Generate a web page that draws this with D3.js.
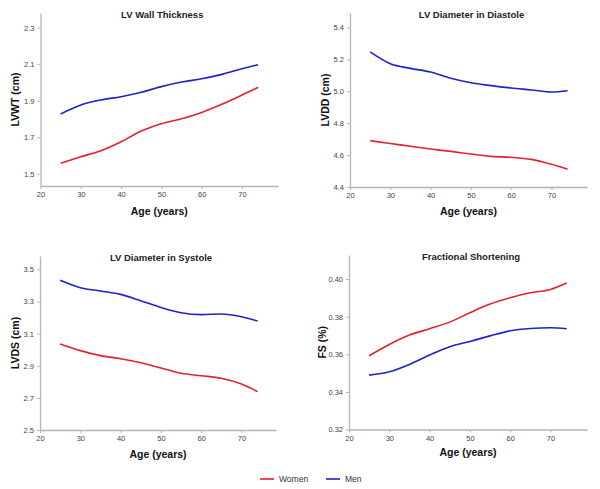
<!DOCTYPE html>
<html>
<head>
<meta charset="utf-8">
<script src="https://cdn.jsdelivr.net/npm/d3@7"></script>
<style>
  body { margin: 0; background: #fff; }
  svg { font-family: "Liberation Sans", Arial, sans-serif; }
</style>
</head>
<body>
<script>
// age points
var ages = [25, 30, 35, 40, 45, 50, 55, 60, 65, 70, 74];

var lvwtWomen = [1.558, 1.593, 1.626, 1.675, 1.734, 1.774, 1.801, 1.836, 1.880, 1.931, 1.973];
var lvwtMen   = [1.827, 1.876, 1.904, 1.922, 1.946, 1.977, 2.002, 2.020, 2.044, 2.075, 2.097];

var lvddWomen = [4.690, 4.673, 4.655, 4.638, 4.623, 4.607, 4.592, 4.586, 4.573, 4.542, 4.511];
var lvddMen   = [5.246, 5.172, 5.143, 5.120, 5.081, 5.053, 5.035, 5.020, 5.008, 4.995, 5.003];

var lvdsWomen = [3.035, 2.994, 2.963, 2.944, 2.919, 2.886, 2.853, 2.838, 2.822, 2.786, 2.739];
var lvdsMen   = [3.432, 3.386, 3.365, 3.344, 3.305, 3.263, 3.230, 3.218, 3.222, 3.205, 3.178];

var fsWomen = [0.3592, 0.3652, 0.3702, 0.3736, 0.3771, 0.3821, 0.3867, 0.3901, 0.3927, 0.3945, 0.3979];
var fsMen   = [0.3489, 0.3507, 0.3546, 0.3596, 0.3640, 0.3668, 0.3698, 0.3725, 0.3737, 0.3741, 0.3736];

var xTicks = [20, 30, 40, 50, 60, 70];
var lvwtTicks = [1.5, 1.7, 1.9, 2.1, 2.3];
var lvddTicks = [4.4, 4.6, 4.8, 5.0, 5.2, 5.4];
var lvdsTicks = [2.5, 2.7, 2.9, 3.1, 3.3, 3.5];
var fsTicks = [0.32, 0.34, 0.36, 0.38, 0.40];

var seriesNames = ["Women", "Men"];
var colors = { Women: "#e3212b", Men: "#2121cc" };

var w = 600, h = 489;
var svg = d3.select("body").append("svg")
    .attr("width", w)
    .attr("height", h);

// panel layout: plot box in page pixels
var panels = [
    { title: "LV Wall Thickness", ylab: "LVWT (cm)", women: lvwtWomen, men: lvwtMen, ticks: lvwtTicks,
      fmt: ".1f", ydom: [1.433, 2.38], x0: 40.5, x1: 278, y0: 186, y1: 13, ylabX: 15, xlabY: 211 },
    { title: "LV Diameter in Diastole", ylab: "LVDD (cm)", women: lvddWomen, men: lvddMen, ticks: lvddTicks,
      fmt: ".1f", ydom: [4.4, 5.49], x0: 350, x1: 587, y0: 187, y1: 13, ylabX: 325, xlabY: 211 },
    { title: "LV Diameter in Systole", ylab: "LVDS (cm)", women: lvdsWomen, men: lvdsMen, ticks: lvdsTicks,
      fmt: ".1f", ydom: [2.5, 3.583], x0: 40, x1: 276, y0: 430, y1: 256, ylabX: 15, xlabY: 454 },
    { title: "Fractional Shortening", ylab: "FS (%)", women: fsWomen, men: fsMen, ticks: fsTicks,
      fmt: ".2f", ydom: [0.32, 0.4128], x0: 349, x1: 587, y0: 429.5, y1: 255, ylabX: 322, xlabY: 452 }
];

panels.forEach(function(p) {
    // x runs from 20 at the y axis, ~4.03 px per year
    var xEnd = 20 + (p.x1 - p.x0) / 4.03;
    var x = d3.scaleLinear().domain([20, xEnd]).range([p.x0, p.x1]);
    var y = d3.scaleLinear().domain(p.ydom).range([p.y0, p.y1]);

    var g = svg.append("g");

    var xAxis = g.append("g")
        .attr("transform", "translate(0," + p.y0 + ")")
        .call(d3.axisBottom(x).tickValues(xTicks).tickSize(3).tickSizeOuter(0).tickPadding(3));
    var yAxis = g.append("g")
        .attr("transform", "translate(" + p.x0 + ",0)")
        .call(d3.axisLeft(y).tickValues(p.ticks).tickFormat(d3.format(p.fmt)).tickSize(3).tickSizeOuter(0).tickPadding(3));

    [xAxis, yAxis].forEach(function(a) {
        a.select(".domain").attr("stroke", "#b5b5b5").attr("stroke-width", 1.3);
        a.selectAll(".tick line").attr("stroke", "#b5b5b5");
        a.selectAll(".tick text").attr("fill", "#444").attr("font-size", "7.5px")
            .attr("font-family", "Liberation Sans, Arial, sans-serif");
    });

    var line = d3.line()
        .x(function(d) { return x(d[0]); })
        .y(function(d) { return y(d[1]); })
        .curve(d3.curveMonotoneX);

    seriesNames.forEach(function(name) {
        var vals = name === "Women" ? p.women : p.men;
        g.append("path")
            .datum(ages.map(function(a, i) { return [a, vals[i]]; }))
            .attr("fill", "none")
            .attr("stroke", colors[name])
            .attr("stroke-width", 1.6)
            .attr("d", line);
    });

    var cx = (p.x0 + p.x1) / 2;
    g.append("text")
        .attr("x", cx + 3)
        .attr("y", p.y1 + 5)
        .attr("text-anchor", "middle")
        .attr("font-size", "9.5px")
        .attr("font-weight", "bold")
        .attr("fill", "#222")
        .text(p.title);

    g.append("text")
        .attr("x", cx)
        .attr("y", p.xlabY + 4)
        .attr("text-anchor", "middle")
        .attr("font-size", "10.5px")
        .attr("font-weight", "bold")
        .attr("fill", "#111")
        .text("Age (years)");

    var ym = (p.y0 + p.y1) / 2;
    g.append("text")
        .attr("transform", "translate(" + (p.ylabX + 4) + "," + ym + ") rotate(-90)")
        .attr("text-anchor", "middle")
        .attr("font-size", "10.5px")
        .attr("font-weight", "bold")
        .attr("fill", "#111")
        .text(p.ylab);
});

// legend
var legendX = [260, 326];
var legend = svg.append("g");
seriesNames.forEach(function(name, i) {
    legend.append("line")
        .attr("x1", legendX[i]).attr("x2", legendX[i] + 14)
        .attr("y1", 479).attr("y2", 479)
        .attr("stroke", colors[name])
        .attr("stroke-width", 1.6);
    legend.append("text")
        .attr("x", legendX[i] + 19)
        .attr("y", 482)
        .attr("font-size", "8.5px")
        .attr("fill", "#333")
        .text(name);
});
</script>
</body>
</html>
